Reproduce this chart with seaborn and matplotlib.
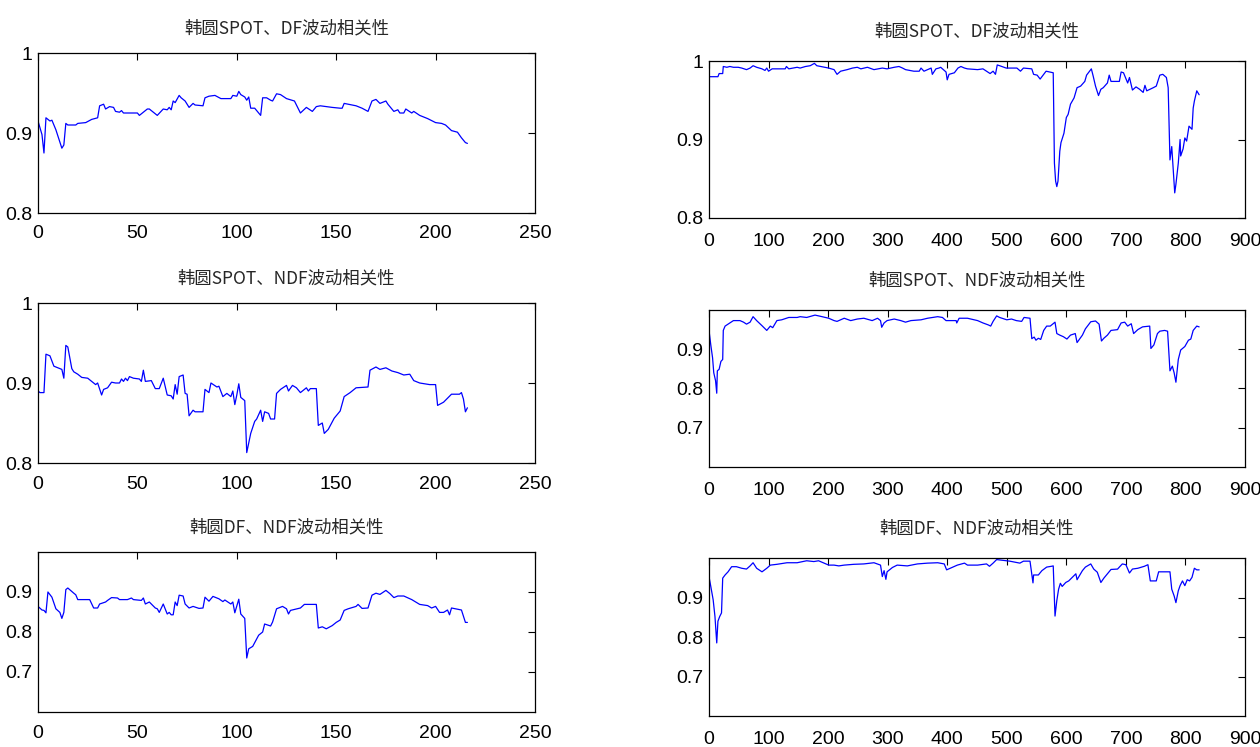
import matplotlib
matplotlib.use("Agg")
import matplotlib.pyplot as plt
import seaborn as sns
from matplotlib import font_manager
from matplotlib.ticker import FuncFormatter

# ---- data (index, correlation) ----
# short sample (about 217 obs)
short_spot_df_x = [0, 2, 3, 4, 6, 7, 9, 12, 13, 14, 15, 19, 20, 24, 27, 30, 31, 33, 34, 36, 38, 39, 41, 42, 43,
                   50, 51, 55, 56, 60, 63, 65, 66, 67, 68, 69, 71, 72, 74, 76, 78, 79, 83, 84, 86, 89, 92, 97, 98,
                   100, 101, 102, 104, 105, 106, 107, 109, 112, 113, 115, 117, 118, 120, 122, 125, 129, 132, 135,
                   138, 140, 142, 148, 152, 153, 154, 156, 160, 163, 166, 168, 170, 172, 175, 176, 179, 181, 182,
                   184, 185, 188, 189, 192, 196, 200, 203, 205, 208, 211, 213, 215, 216]
short_spot_df_y = [0.915, 0.898, 0.875, 0.919, 0.915, 0.916, 0.904, 0.881, 0.885, 0.912, 0.910, 0.910, 0.912,
                   0.913, 0.917, 0.919, 0.934, 0.936, 0.930, 0.933, 0.932, 0.927, 0.926, 0.928, 0.925, 0.925,
                   0.922, 0.930, 0.930, 0.922, 0.930, 0.929, 0.932, 0.929, 0.940, 0.938, 0.947, 0.944, 0.940,
                   0.932, 0.937, 0.935, 0.934, 0.944, 0.946, 0.947, 0.943, 0.943, 0.947, 0.946, 0.952, 0.948,
                   0.945, 0.941, 0.945, 0.931, 0.931, 0.922, 0.944, 0.944, 0.941, 0.940, 0.949, 0.948, 0.943,
                   0.940, 0.925, 0.932, 0.927, 0.933, 0.934, 0.932, 0.931, 0.931, 0.937, 0.936, 0.934, 0.931,
                   0.927, 0.940, 0.942, 0.937, 0.940, 0.936, 0.927, 0.929, 0.925, 0.925, 0.930, 0.925, 0.927,
                   0.922, 0.918, 0.913, 0.912, 0.910, 0.903, 0.901, 0.894, 0.888, 0.887]

short_spot_ndf_x = [0, 1, 3, 4, 6, 8, 10, 12, 13, 14, 15, 17, 18, 20, 22, 25, 27, 29, 30, 32, 33, 35, 37, 39, 41,
                    42, 43, 44, 45, 46, 48, 51, 52, 53, 54, 57, 59, 61, 63, 65, 67, 68, 69, 70, 71, 73, 74, 75,
                    76, 78, 79, 83, 84, 86, 87, 90, 91, 93, 95, 97, 98, 99, 100, 101, 102, 104, 105, 107, 109,
                    110, 112, 113, 114, 116, 117, 119, 120, 122, 125, 126, 128, 130, 132, 135, 136, 137, 140,
                    141, 143, 144, 146, 149, 152, 154, 157, 160, 166, 167, 170, 172, 175, 178, 181, 184, 187,
                    189, 192, 197, 200, 201, 204, 206, 208, 212, 213, 214, 215, 216]
short_spot_ndf_y = [0.890, 0.888, 0.888, 0.936, 0.934, 0.921, 0.919, 0.917, 0.906, 0.947, 0.945, 0.918, 0.914,
                    0.911, 0.907, 0.906, 0.902, 0.898, 0.900, 0.885, 0.892, 0.894, 0.901, 0.900, 0.900, 0.905,
                    0.902, 0.906, 0.903, 0.908, 0.906, 0.905, 0.902, 0.916, 0.902, 0.903, 0.893, 0.893, 0.906,
                    0.885, 0.884, 0.880, 0.898, 0.886, 0.908, 0.910, 0.887, 0.886, 0.859, 0.866, 0.864, 0.864,
                    0.892, 0.888, 0.900, 0.895, 0.896, 0.883, 0.887, 0.883, 0.890, 0.873, 0.885, 0.899, 0.882,
                    0.878, 0.813, 0.837, 0.852, 0.855, 0.866, 0.852, 0.864, 0.862, 0.855, 0.855, 0.887, 0.892,
                    0.897, 0.890, 0.897, 0.894, 0.888, 0.894, 0.890, 0.893, 0.893, 0.847, 0.850, 0.837, 0.842,
                    0.856, 0.865, 0.883, 0.888, 0.894, 0.895, 0.916, 0.920, 0.917, 0.919, 0.915, 0.913, 0.910,
                    0.911, 0.903, 0.900, 0.898, 0.898, 0.872, 0.876, 0.881, 0.886, 0.886, 0.888, 0.880, 0.864,
                    0.869]

short_df_ndf_x = [0, 2, 3, 4, 5, 7, 9, 11, 12, 13, 14, 15, 18, 19, 20, 26, 28, 30, 31, 34, 35, 37, 40, 41, 45, 47,
                  48, 52, 53, 54, 56, 59, 60, 61, 63, 65, 66, 67, 68, 69, 70, 71, 73, 74, 76, 78, 81, 83, 84, 86,
                  88, 91, 93, 94, 97, 98, 99, 101, 102, 104, 105, 106, 108, 111, 113, 114, 117, 118, 120, 123,
                  125, 126, 127, 132, 134, 140, 141, 143, 145, 148, 150, 152, 154, 156, 160, 161, 163, 166, 168,
                  170, 172, 175, 177, 179, 181, 184, 188, 192, 196, 198, 200, 202, 204, 206, 207, 208, 213, 215,
                  216]
short_df_ndf_y = [0.864, 0.855, 0.854, 0.848, 0.900, 0.887, 0.858, 0.849, 0.834, 0.849, 0.906, 0.910, 0.897,
                  0.893, 0.881, 0.881, 0.860, 0.860, 0.870, 0.875, 0.879, 0.886, 0.885, 0.881, 0.881, 0.885,
                  0.881, 0.879, 0.885, 0.870, 0.875, 0.860, 0.858, 0.849, 0.870, 0.845, 0.849, 0.843, 0.843,
                  0.875, 0.866, 0.892, 0.890, 0.870, 0.860, 0.864, 0.859, 0.860, 0.887, 0.877, 0.889, 0.883,
                  0.876, 0.880, 0.870, 0.875, 0.848, 0.882, 0.845, 0.834, 0.735, 0.758, 0.764, 0.792, 0.800,
                  0.820, 0.815, 0.825, 0.858, 0.864, 0.858, 0.845, 0.854, 0.860, 0.869, 0.869, 0.810, 0.813,
                  0.808, 0.816, 0.824, 0.830, 0.854, 0.858, 0.864, 0.869, 0.859, 0.860, 0.892, 0.897, 0.894,
                  0.904, 0.896, 0.886, 0.890, 0.890, 0.881, 0.869, 0.866, 0.860, 0.864, 0.849, 0.849, 0.855,
                  0.843, 0.860, 0.855, 0.824, 0.824]

# long sample (about 823 obs)
long_spot_df_x = [0, 15, 17, 23, 24, 30, 35, 41, 49, 55, 63, 69, 74, 80, 89, 94, 97, 100, 106, 128, 130, 134, 148,
                  153, 162, 170, 177, 181, 195, 201, 210, 215, 221, 232, 241, 249, 255, 266, 277, 291, 299, 311,
                  319, 325, 330, 344, 353, 356, 361, 367, 373, 375, 381, 386, 389, 398, 400, 403, 412, 418, 423,
                  429, 434, 451, 460, 472, 477, 481, 484, 488, 499, 517, 523, 528, 542, 545, 551, 556, 562, 566,
                  578, 580, 582, 584, 586, 589, 591, 596, 600, 603, 607, 613, 618, 624, 631, 634, 642, 645, 649,
                  654, 658, 662, 669, 672, 675, 689, 692, 696, 703, 706, 711, 717, 723, 729, 732, 735, 746, 751,
                  757, 762, 768, 771, 774, 777, 779, 782, 784, 788, 791, 792, 796, 799, 802, 806, 811, 813, 815,
                  819, 823]
long_spot_df_y = [0.980, 0.980, 0.984, 0.984, 0.993, 0.992, 0.993, 0.992, 0.992, 0.991, 0.989, 0.991, 0.994,
                  0.992, 0.990, 0.988, 0.991, 0.987, 0.990, 0.990, 0.993, 0.990, 0.992, 0.991, 0.993, 0.994,
                  0.997, 0.994, 0.992, 0.991, 0.989, 0.983, 0.987, 0.989, 0.991, 0.992, 0.990, 0.992, 0.989,
                  0.991, 0.990, 0.992, 0.993, 0.991, 0.989, 0.987, 0.987, 0.991, 0.987, 0.989, 0.991, 0.983,
                  0.990, 0.991, 0.992, 0.986, 0.976, 0.983, 0.985, 0.991, 0.993, 0.991, 0.990, 0.989, 0.990,
                  0.984, 0.987, 0.983, 0.995, 0.994, 0.991, 0.991, 0.987, 0.991, 0.990, 0.983, 0.982, 0.977,
                  0.983, 0.987, 0.985, 0.870, 0.847, 0.840, 0.847, 0.885, 0.896, 0.908, 0.928, 0.932, 0.945,
                  0.953, 0.966, 0.968, 0.974, 0.982, 0.990, 0.981, 0.968, 0.956, 0.964, 0.966, 0.972, 0.982,
                  0.974, 0.974, 0.986, 0.985, 0.972, 0.979, 0.963, 0.967, 0.964, 0.960, 0.969, 0.962, 0.966,
                  0.968, 0.982, 0.983, 0.979, 0.966, 0.874, 0.891, 0.868, 0.832, 0.843, 0.870, 0.900, 0.879,
                  0.888, 0.902, 0.898, 0.917, 0.913, 0.940, 0.949, 0.962, 0.957]

long_spot_ndf_x = [0, 3, 6, 8, 11, 13, 14, 17, 20, 23, 24, 27, 32, 41, 52, 58, 63, 69, 74, 80, 89, 97, 103, 107,
                   114, 122, 134, 148, 153, 164, 178, 187, 201, 210, 215, 227, 238, 249, 260, 274, 283, 288, 290,
                   294, 299, 311, 322, 330, 339, 356, 367, 384, 392, 398, 415, 416, 420, 434, 451, 460, 469, 473,
                   477, 483, 488, 500, 508, 516, 525, 529, 539, 542, 546, 549, 553, 557, 562, 567, 573, 581, 584,
                   589, 595, 601, 607, 615, 618, 627, 632, 641, 649, 655, 659, 663, 669, 675, 686, 692, 698, 703,
                   709, 713, 720, 728, 740, 742, 747, 753, 757, 765, 770, 774, 778, 781, 784, 788, 792, 799, 805,
                   809, 813, 819, 823]
long_spot_ndf_y = [0.948, 0.911, 0.878, 0.840, 0.820, 0.788, 0.845, 0.849, 0.869, 0.874, 0.948, 0.959, 0.964,
                   0.973, 0.973, 0.969, 0.964, 0.969, 0.983, 0.973, 0.960, 0.948, 0.959, 0.955, 0.973, 0.975,
                   0.981, 0.981, 0.983, 0.981, 0.987, 0.984, 0.979, 0.973, 0.971, 0.979, 0.973, 0.977, 0.979,
                   0.973, 0.979, 0.973, 0.956, 0.967, 0.973, 0.977, 0.973, 0.969, 0.973, 0.975, 0.979, 0.983,
                   0.981, 0.973, 0.973, 0.967, 0.979, 0.979, 0.973, 0.967, 0.962, 0.959, 0.971, 0.985, 0.981,
                   0.975, 0.977, 0.973, 0.971, 0.981, 0.979, 0.927, 0.931, 0.923, 0.928, 0.925, 0.948, 0.959,
                   0.959, 0.969, 0.940, 0.936, 0.932, 0.926, 0.936, 0.940, 0.917, 0.936, 0.952, 0.970, 0.972,
                   0.964, 0.921, 0.928, 0.936, 0.948, 0.950, 0.967, 0.969, 0.959, 0.965, 0.940, 0.950, 0.957,
                   0.959, 0.902, 0.911, 0.940, 0.946, 0.948, 0.946, 0.845, 0.857, 0.840, 0.816, 0.874, 0.898,
                   0.907, 0.923, 0.926, 0.948, 0.959, 0.957]

long_df_ndf_x = [0, 3, 7, 10, 13, 15, 18, 21, 23, 27, 32, 38, 46, 55, 63, 69, 74, 80, 89, 97, 103, 114, 131, 148,
                 164, 176, 184, 201, 210, 218, 227, 243, 260, 277, 288, 291, 294, 297, 299, 308, 316, 333, 350,
                 367, 384, 395, 399, 405, 417, 429, 434, 451, 466, 471, 477, 483, 494, 505, 522, 528, 539, 544,
                 545, 553, 559, 567, 575, 578, 581, 584, 587, 590, 593, 599, 604, 610, 616, 618, 627, 632, 641,
                 646, 652, 658, 663, 669, 675, 686, 694, 700, 706, 711, 720, 731, 737, 741, 751, 755, 774, 777,
                 781, 784, 788, 791, 795, 799, 803, 807, 811, 815, 819, 823]
long_df_ndf_y = [0.953, 0.928, 0.894, 0.852, 0.785, 0.840, 0.852, 0.861, 0.949, 0.957, 0.965, 0.978, 0.978,
                 0.974, 0.972, 0.980, 0.988, 0.974, 0.965, 0.974, 0.982, 0.984, 0.988, 0.988, 0.993, 0.991,
                 0.993, 0.982, 0.982, 0.980, 0.982, 0.984, 0.985, 0.988, 0.982, 0.953, 0.968, 0.946, 0.965,
                 0.976, 0.982, 0.980, 0.985, 0.987, 0.988, 0.985, 0.970, 0.974, 0.982, 0.987, 0.982, 0.982,
                 0.985, 0.979, 0.987, 0.996, 0.994, 0.992, 0.987, 0.992, 0.992, 0.937, 0.957, 0.957, 0.968,
                 0.977, 0.979, 0.980, 0.853, 0.892, 0.921, 0.936, 0.928, 0.938, 0.942, 0.951, 0.960, 0.945,
                 0.968, 0.977, 0.985, 0.972, 0.964, 0.938, 0.949, 0.960, 0.971, 0.972, 0.985, 0.983, 0.962,
                 0.972, 0.974, 0.979, 0.983, 0.942, 0.942, 0.965, 0.965, 0.921, 0.904, 0.887, 0.917, 0.930,
                 0.942, 0.930, 0.945, 0.942, 0.951, 0.974, 0.970, 0.970]

titles_left = ["韩圆SPOT、DF波动相关性", "韩圆SPOT、NDF波动相关性", "韩圆DF、NDF波动相关性"]
titles_right = titles_left
short_xticks = [0, 50, 100, 150, 200, 250]
long_xticks = [0, 100, 200, 300, 400, 500, 600, 700, 800, 900]

sns.set_style("white")
names = {f.name for f in font_manager.fontManager.ttflist}
tick_font = "Liberation Sans Narrow" if "Liberation Sans Narrow" in names else "Liberation Sans"
plt.rcParams["font.family"] = [tick_font, "DejaVu Sans"]
plt.rcParams["axes.unicode_minus"] = False


def style_axes(ax, xmax, xticks, ylim, yticks, title, title_pad, xpad):
    ax.set_xlim(0, xmax)
    ax.set_ylim(*ylim)
    ax.set_xticks(xticks)
    ax.set_yticks(yticks)
    ax.yaxis.set_major_formatter(FuncFormatter(lambda v, p: f"{v:g}"))
    ax.tick_params(direction="in", length=5, width=0.8, top=True, right=True,
                   labelsize=14, colors="black")
    ax.tick_params(axis="x", pad=xpad)
    ax.tick_params(axis="y", pad=4)
    for sp in ax.spines.values():
        sp.set_visible(True)
        sp.set_color("black")
        sp.set_linewidth(0.9)
    ax.set_xlabel("")
    ax.set_ylabel("")
    ax.set_title(title, fontsize=12.5, family=["Noto Sans CJK SC", "DejaVu Sans"], pad=title_pad)


fig = plt.figure(figsize=(12.6, 7.47), dpi=100)
W, H = 1260, 747
left_rows = [(53, 213), (303, 463), (552, 712)]
right_rows = [(61, 218), (310, 467), (558, 716)]
left_series = [(short_spot_df_x, short_spot_df_y), (short_spot_ndf_x, short_spot_ndf_y),
               (short_df_ndf_x, short_df_ndf_y)]
right_series = [(long_spot_df_x, long_spot_df_y), (long_spot_ndf_x, long_spot_ndf_y),
                (long_df_ndf_x, long_df_ndf_y)]
ylims = [(0.8, 1.0), (0.8, 1.0), (0.6, 1.0)]
ytick_sets = [[0.8, 0.9, 1.0], [0.8, 0.9, 1.0], [0.7, 0.8, 0.9]]
ylims_r = [(0.8, 1.0), (0.6, 1.0), (0.6, 1.0)]
ytick_sets_r = [[0.8, 0.9, 1.0], [0.7, 0.8, 0.9], [0.7, 0.8, 0.9]]

for i in range(3):
    t, b = left_rows[i]
    ax = fig.add_axes([38 / W, 1 - b / H, (535 - 38) / W, (b - t) / H])
    xs, ys = left_series[i]
    sns.lineplot(x=xs, y=ys, ax=ax, color="#0000ff", linewidth=0.9, estimator=None, sort=False)
    style_axes(ax, 250, short_xticks, ylims[i], ytick_sets[i], titles_left[i], 14, 9)

    t, b = right_rows[i]
    ax = fig.add_axes([709 / W, 1 - b / H, (1245 - 709) / W, (b - t) / H])
    xs, ys = right_series[i]
    sns.lineplot(x=xs, y=ys, ax=ax, color="#0000ff", linewidth=0.9, estimator=None, sort=False)
    style_axes(ax, 900, long_xticks, ylims_r[i], ytick_sets_r[i], titles_right[i], 18, 11)

fig.savefig("out.png", dpi=100, facecolor="white")
